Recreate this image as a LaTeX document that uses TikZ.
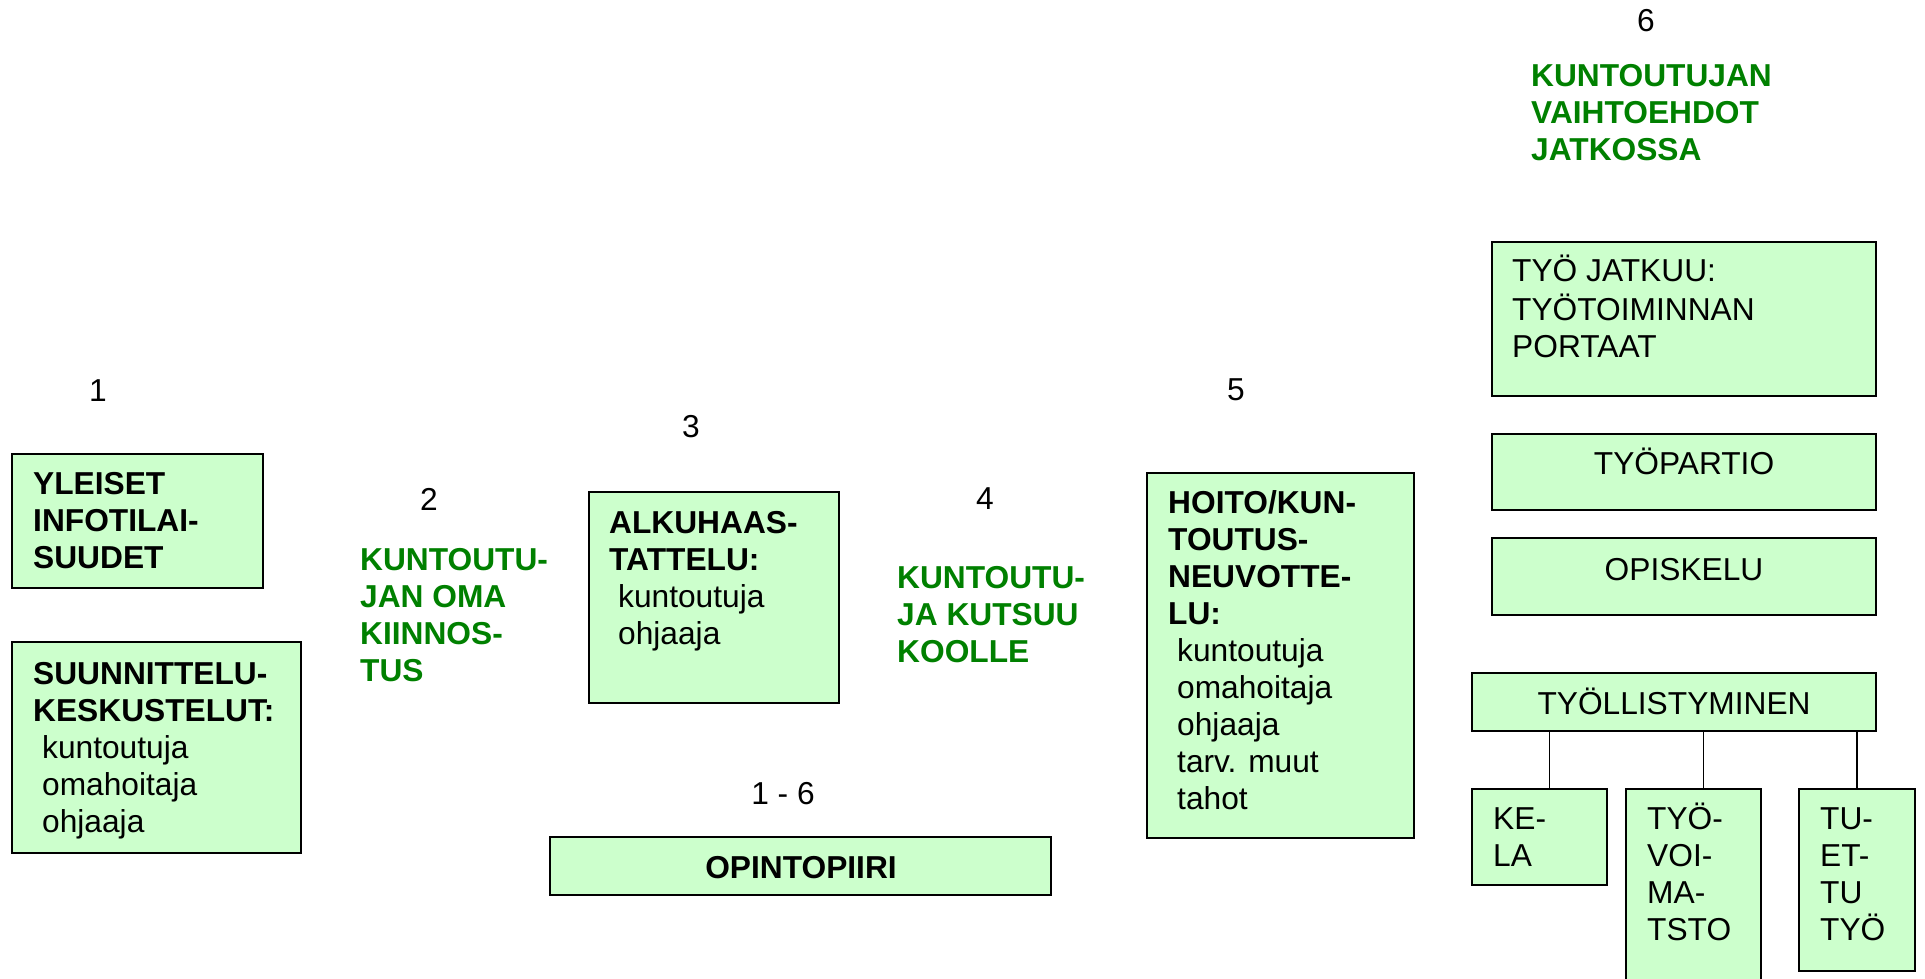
\documentclass[tikz,border=0pt]{standalone}
\usepackage{fontspec}
\setmainfont{Liberation Sans}
\usepackage{xcolor}
\usetikzlibrary{positioning,calc}
\definecolor{boxgreen}{HTML}{CCFFCC}
\definecolor{textgreen}{HTML}{008000}
\newcommand{\ind}{\hspace*{9pt}}
\newcommand{\bigfont}{\fontsize{31.7}{37}\selectfont}

\begin{document}
\begin{tikzpicture}[x=1pt,y=-1pt,
    box/.style={draw, line width=1.8pt, fill=boxgreen, anchor=north west, inner sep=0, outer sep=0},
    txt/.style={inner sep=0, align=left, anchor=north west, font=\bigfont},
    hd/.style={txt, font=\bigfont\bfseries},
    grn/.style={hd, text=textgreen},
    lbl/.style={inner sep=0, anchor=base, font=\bigfont},
    link/.style={line width=1.8pt}]
    \useasboundingbox (0,0) rectangle (1925,978);
    \clip (0,0) rectangle (1925,978);
    % step numbers
    \node[lbl] (n1) at (98,401) {1};
    \node[lbl] (n2) at (429,510) {2};
    \node[lbl] (n3) at (691,437) {3};
    \node[lbl] (n4) at (985,509) {4};
    \node[lbl] (n5) at (1236,400) {5};
    \node[lbl] (n6) at (1646,31) {6};
    \node[lbl] (n16) at (783,804) {1 - 6};
    % boxes
    \node[box, minimum width=251pt, minimum height=134pt] (yleiset) at (12,454) {};
    \node[box, minimum width=289pt, minimum height=211pt] (suunn) at (12,642) {};
    \node[box, minimum width=250pt, minimum height=211pt] (alku) at (589,492) {};
    \node[box, minimum width=501pt, minimum height=58pt] (opinto) at (550,837) {};
    \node[box, minimum width=267pt, minimum height=365pt] (hoito) at (1147,473) {};
    \node[box, minimum width=384pt, minimum height=154pt] (jatkuu) at (1492,242) {};
    \node[box, minimum width=384pt, minimum height=76pt] (partio) at (1492,434) {};
    \node[box, minimum width=384pt, minimum height=77pt] (opiskelu) at (1492,538) {};
    \node[box, minimum width=404pt, minimum height=58pt] (tyollist) at (1472,673) {};
    \node[box, minimum width=135pt, minimum height=96pt] (kela) at (1472,789) {};
    \node[box, minimum width=135pt, minimum height=220pt] (tyovoima) at (1626,789) {};
    \node[box, minimum width=116pt, minimum height=182pt] (tuettu) at (1799,789) {};
    % texts
    \node[hd] (yleisetT) at (33,468) {\strut YLEISET\\INFOTILAI-\\SUUDET};
    \node[txt] (suunnT) at (33,658) {\strut\textbf{SUUNNITTELU-}\\\textbf{KESKUSTELUT:}\\\ind kuntoutuja\\\ind omahoitaja\\\ind ohjaaja};
    \node[grn] (kiinnos) at (360,544) {\strut KUNTOUTU-\\JAN OMA\\KIINNOS-\\TUS};
    \node[txt] (alkuT) at (609,507) {\strut\textbf{ALKUHAAS-}\\\textbf{TATTELU:}\\\ind kuntoutuja\\\ind ohjaaja};
    \node[grn] (koolle) at (897,562) {\strut KUNTOUTU-\\JA KUTSUU\\KOOLLE};
    \node[txt] (hoitoT) at (1168,487) {\strut\textbf{HOITO/KUN-}\\\textbf{TOUTUS-}\\\textbf{NEUVOTTE-}\\\textbf{LU:}\\\ind kuntoutuja\\\ind omahoitaja\\\ind ohjaaja\\\ind tarv. muut\\\ind tahot};
    \node[grn] (vaihto) at (1531,60) {\strut KUNTOUTUJAN\\VAIHTOEHDOT\\JATKOSSA};
    \node[txt] (jatkuuT) at (1512,255) {\strut TYÖ JATKUU:\\TYÖTOIMINNAN\\PORTAAT};
    \node[lbl] (partioT) at (1684,474) {TYÖPARTIO};
    \node[lbl] (opiskeluT) at (1684,580) {OPISKELU};
    \node[lbl] (tyollistT) at (1674,714) {TYÖLLISTYMINEN};
    \node[lbl, font=\bigfont\bfseries] (opintoT) at (801,878) {OPINTOPIIRI};
    \node[txt] (kelaT) at (1493,803) {\strut KE-\\LA};
    \node[txt] (tyovoimaT) at (1647,803) {\strut TYÖ-\\VOI-\\MA-\\TSTO};
    \node[txt] (tuettuT) at (1820,803) {\strut TU-\\ET-\\TU\\TYÖ};
    % connectors
    \draw[link] ([xshift=10pt]kela.north) -- ([xshift=10pt]kela.north |- tyollist.south);
    \draw[link] ([xshift=10pt]tyovoima.north) -- ([xshift=10pt]tyovoima.north |- tyollist.south);
    \draw[link] (tuettu.north) -- (tuettu.north |- tyollist.south);
\end{tikzpicture}
\end{document}
